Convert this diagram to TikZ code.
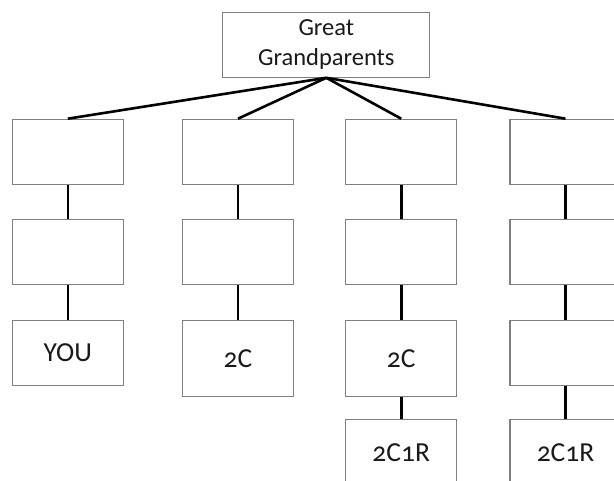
\documentclass[tikz,border=0pt]{standalone}
\usepackage{fontspec}
\setmainfont{Carlito}[Numbers=OldStyle]
\definecolor{boxgray}{HTML}{808080}
\definecolor{inkgray}{HTML}{1A1A1A}
\begin{document}
\begin{tikzpicture}[x=1pt,y=-1pt,
  box/.style={draw=boxgray, line width=1.1pt, fill=white,
    minimum width=111pt, minimum height=65pt, inner sep=0pt,
    anchor=north, text=inkgray, font=\fontsize{27.5}{30}\selectfont},
  tallbox/.style={minimum height=75.7pt},
  link/.style={line width=2.6pt, draw=black}]
  \clip (0,0) rectangle (614,481);
  \fill[white] (0,0) rectangle (614,481);

  % great grandparents at the top
  \node[box, minimum width=207pt, minimum height=64.7pt, align=center,
        font=\fontsize{24.5}{30}\selectfont] (gg) at (326.3,12) {Great\\Grandparents};

  % four lines of descent
  \node[box] (a1) at (67.8,118.7) {};
  \node[box] (b1) at (238,118.7) {};
  \node[box] (c1) at (401.2,118.7) {};
  \node[box] (d1) at (565.5,118.7) {};

  \node[box] (a2) at (67.8,219) {};
  \node[box] (b2) at (238,219) {};
  \node[box] (c2) at (401.2,219) {};
  \node[box] (d2) at (565.5,219) {};

  \node[box] (a3) at (67.8,320) {YOU};
  \node[box, tallbox] (b3) at (238,320) {2C};
  \node[box, tallbox] (c3) at (401.2,320) {2C};
  \node[box] (d3) at (565.5,320) {};

  \node[box] (c4) at (401.2,419.3) {2C1R};
  \node[box] (d4) at (565.5,419.3) {2C1R};

  % connectors
  \foreach \n in {a1,b1,c1,d1}
    \draw[link] (gg.south) -- (\n.north);
  \foreach \u/\v in {a1/a2,b1/b2,c1/c2,d1/d2,a2/a3,b2/b3,c2/c3,d2/d3,c3/c4,d3/d4}
    \draw[link] (\u.south) -- (\v.north);
\end{tikzpicture}
\end{document}
